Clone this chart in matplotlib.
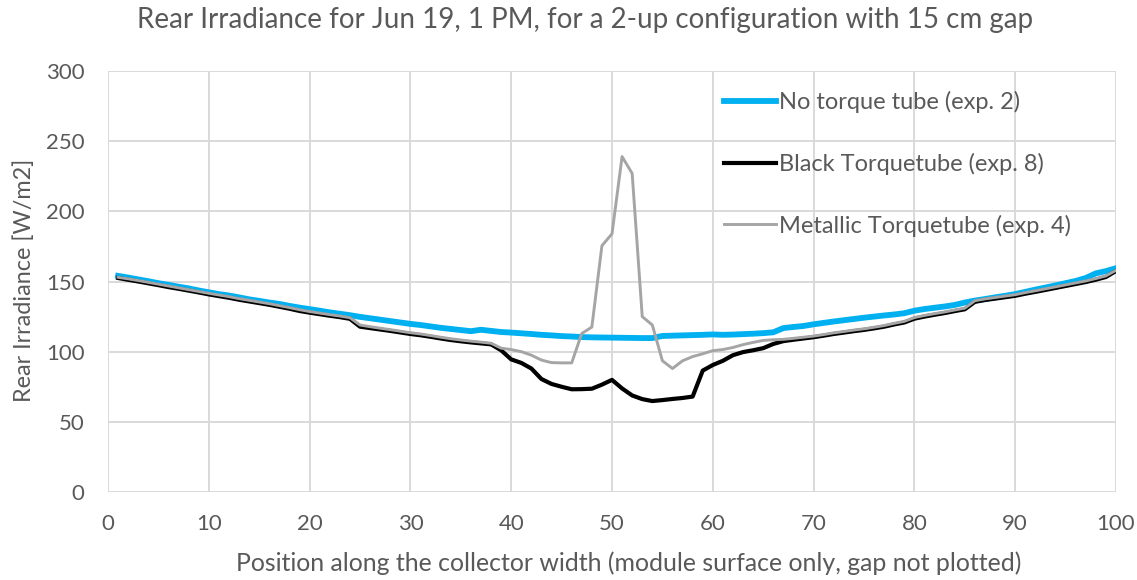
import matplotlib
matplotlib.use("Agg")
import matplotlib.pyplot as plt

plt.rcParams['font.family'] = ['Lato', 'DejaVu Sans']

positions = list(range(1, 101))

no_tube = [
    154.0, 152.8, 151.5, 150.2, 148.8, 147.6, 146.3, 145.1, 143.6, 142.3,
    141.0, 140.0, 138.7, 137.3, 136.2, 135.0, 134.0, 132.6, 131.4, 130.3,
    129.2, 128.0, 127.0, 126.0, 124.8, 123.8, 122.8, 121.8, 120.8, 119.8,
    119.0, 118.0, 117.0, 116.2, 115.4, 114.6, 115.6, 114.8, 114.0, 113.6,
    113.1, 112.6, 112.0, 111.6, 111.1, 110.8, 110.4, 110.2, 110.1, 110.0,
    109.9, 109.8, 109.7, 109.7, 111.2, 111.4, 111.6, 111.8, 112.0, 112.3,
    112.0, 112.2, 112.5, 112.8, 113.2, 113.8, 116.8, 117.6, 118.3, 119.5,
    120.5, 121.5, 122.4, 123.3, 124.2, 125.0, 125.8, 126.5, 127.4, 129.2,
    130.4, 131.3, 132.2, 133.3, 135.0, 136.4, 137.5, 138.7, 139.8, 141.0,
    142.6, 144.2, 145.7, 147.2, 148.8, 150.4, 152.5, 155.8, 157.4, 159.5,
]

black_tube = [
    152.5, 151.2, 150.0, 148.7, 147.4, 146.0, 144.8, 143.5, 142.2, 140.8,
    139.6, 138.4, 137.0, 135.8, 134.6, 133.4, 132.0, 130.6, 129.0, 127.8,
    126.7, 125.6, 124.6, 123.4, 117.8, 116.8, 115.8, 114.8, 113.7, 112.6,
    111.7, 110.6, 109.4, 108.3, 107.4, 106.6, 105.9, 105.2, 101.0, 94.5,
    92.0, 88.0, 80.5, 77.0, 75.0, 73.2, 73.3, 73.6, 76.5, 79.9,
    73.8, 68.8, 66.2, 64.8, 65.5, 66.3, 67.0, 68.0, 86.5, 90.5,
    93.5, 97.5, 99.7, 101.0, 102.5, 105.5, 107.5, 108.5, 109.4, 110.3,
    111.4, 112.6, 113.6, 114.6, 115.5, 116.6, 117.8, 119.4, 120.8, 123.5,
    125.0, 126.3, 127.5, 128.9, 130.2, 135.5, 136.8, 137.8, 138.8, 139.8,
    141.3, 142.6, 144.0, 145.4, 146.8, 148.2, 149.6, 151.3, 153.2, 157.5,
]

metallic_tube = [
    153.0, 151.9, 150.7, 149.4, 148.1, 146.8, 145.5, 144.2, 142.9, 141.6,
    140.4, 139.2, 137.8, 136.6, 135.4, 134.2, 132.8, 131.4, 129.9, 128.6,
    127.5, 126.4, 125.4, 124.2, 119.0, 117.8, 116.7, 115.7, 114.6, 113.5,
    112.6, 111.5, 110.3, 109.2, 108.3, 107.5, 106.8, 106.0, 102.5, 101.5,
    100.0, 97.5, 94.0, 92.2, 92.0, 92.0, 113.0, 117.5, 175.5, 184.0,
    239.0, 227.0, 125.0, 119.0, 93.5, 88.0, 93.5, 96.5, 98.5, 100.7,
    101.5, 103.0, 105.0, 106.6, 108.0, 108.5, 108.8, 109.5, 110.3, 111.1,
    112.2, 113.4, 114.4, 115.4, 116.3, 117.4, 118.6, 120.2, 121.6, 124.3,
    125.8, 127.1, 128.3, 129.7, 131.0, 136.3, 137.6, 138.6, 139.6, 140.6,
    142.1, 143.4, 144.8, 146.2, 147.6, 149.0, 150.4, 152.1, 154.0, 158.0,
]

series_labels = ["No torque tube (exp. 2)", "Black Torquetube (exp. 8)",
                 "Metallic Torquetube (exp. 4)"]

title = "Rear Irradiance for Jun 19, 1 PM, for a 2-up configuration with 15 cm gap"
xlabel = "Position along the collector width (module surface only, gap not plotted)"
ylabel = "Rear Irradiance [W/m2]"

text_color = "#595959"
grid_color = "#d9d9d9"

W, H = 1137, 580
fig = plt.figure(figsize=(W / 100, H / 100), dpi=100)
ax = fig.add_axes([108 / W, 1 - 492 / H, 1008 / W, 421 / H])

l1, = ax.plot(positions, no_tube, color="#00B0F0", lw=4.2, label=series_labels[0], zorder=3)
l2, = ax.plot(positions, black_tube, color="#000000", lw=3.0, label=series_labels[1], zorder=4)
l3, = ax.plot(positions, metallic_tube, color="#A5A5A5", lw=2.1, label=series_labels[2], zorder=5)

ax.set_xlim(0, 100)
ax.set_ylim(0, 300)
ax.set_xticks(range(0, 101, 10))
ax.set_yticks(range(0, 301, 50))
ax.grid(True, color=grid_color, lw=1.4)
ax.set_axisbelow(True)
for s in ax.spines.values():
    s.set_visible(False)
ax.tick_params(length=0, labelsize=16, labelcolor=text_color)
ax.tick_params(axis='x', pad=16)
ax.tick_params(axis='y', pad=17)

fig.text(585 / W, 1 - 20 / H, title, fontsize=20, color=text_color, ha='center', va='center')
fig.text(629 / W, 1 - 563 / H, xlabel, fontsize=17.9, color=text_color, ha='center', va='center')
fig.text(24 / W, 1 - 280 / H, ylabel, fontsize=16.8, color=text_color, ha='center', va='center',
         rotation=90)

leg = ax.legend(handles=[l1, l2, l3], loc="upper left", bbox_to_anchor=(0.590, 1.003),
                frameon=False, fontsize=17, labelcolor=text_color,
                handlelength=2.2, handletextpad=0.12, labelspacing=1.68)

fig.savefig("out.png", dpi=100)
